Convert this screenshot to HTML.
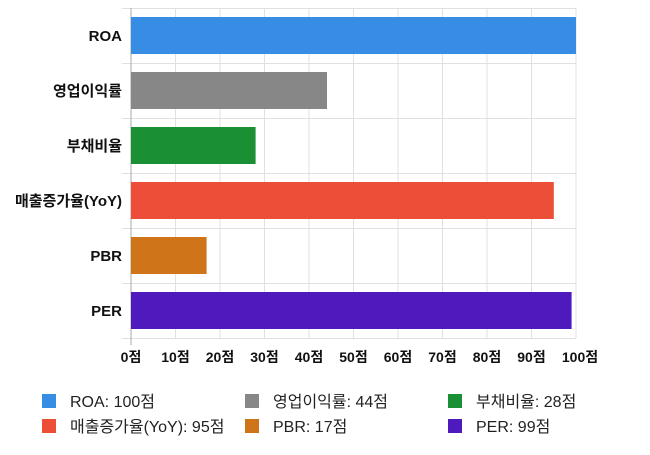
<!DOCTYPE html>
<html><head><meta charset="utf-8"><style>
body{margin:0;background:#fff;width:650px;height:450px;overflow:hidden;font-family:"Liberation Sans","Noto Sans CJK KR",sans-serif}
</style></head><body>
<svg width="650" height="450" xmlns="http://www.w3.org/2000/svg" font-family="Liberation Sans, Noto Sans CJK KR, sans-serif">
<g stroke="#e0e0e0" stroke-width="1">
<line x1="175.5" y1="8" x2="175.5" y2="338"/><line x1="220" y1="8" x2="220" y2="338"/><line x1="264.5" y1="8" x2="264.5" y2="338"/><line x1="309" y1="8" x2="309" y2="338"/><line x1="353.5" y1="8" x2="353.5" y2="338"/><line x1="398" y1="8" x2="398" y2="338"/><line x1="442.5" y1="8" x2="442.5" y2="338"/><line x1="487" y1="8" x2="487" y2="338"/><line x1="531.5" y1="8" x2="531.5" y2="338"/><line x1="576" y1="8" x2="576" y2="338"/>
<line x1="122" y1="8.5" x2="576" y2="8.5"/><line x1="122" y1="63.5" x2="576" y2="63.5"/><line x1="122" y1="118.5" x2="576" y2="118.5"/><line x1="122" y1="173.5" x2="576" y2="173.5"/><line x1="122" y1="228.5" x2="576" y2="228.5"/><line x1="122" y1="283.5" x2="576" y2="283.5"/><line x1="122" y1="338.5" x2="576" y2="338.5"/>
</g>
<line x1="131" y1="8" x2="131" y2="345" stroke="#aaa"/>
<rect x="131" y="17" width="445" height="37" fill="#378ce4"/>
<rect x="131" y="72" width="196" height="37" fill="#878787"/>
<rect x="131" y="127" width="124.6" height="37" fill="#1a8f34"/>
<rect x="131" y="182" width="422.8" height="37" fill="#ec4e37"/>
<rect x="131" y="237" width="75.6" height="37" fill="#cf7418"/>
<rect x="131" y="292" width="440.6" height="37" fill="#4f1abd"/>
<g font-size="15" font-weight="bold" fill="#111" text-anchor="end">
<text x="122" y="41">ROA</text><text x="122" y="96">영업이익률</text><text x="122" y="151">부채비율</text><text x="122" y="206">매출증가율(YoY)</text><text x="122" y="261">PBR</text><text x="122" y="316">PER</text>
</g>
<g font-size="14" font-weight="bold" fill="#111" text-anchor="middle">
<text x="131" y="362">0점</text><text x="175.5" y="362">10점</text><text x="220" y="362">20점</text><text x="264.5" y="362">30점</text><text x="309" y="362">40점</text><text x="353.5" y="362">50점</text><text x="398" y="362">60점</text><text x="442.5" y="362">70점</text><text x="487" y="362">80점</text><text x="531.5" y="362">90점</text><text x="580" y="362">100점</text>
</g>
<rect x="42" y="394" width="14" height="14" fill="#378ce4"/><rect x="245" y="394" width="14" height="14" fill="#878787"/><rect x="448" y="394" width="14" height="14" fill="#1a8f34"/>
<rect x="42" y="419" width="14" height="14" fill="#ec4e37"/><rect x="245" y="419" width="14" height="14" fill="#cf7418"/><rect x="448" y="419" width="14" height="14" fill="#4f1abd"/>
<g font-size="16" fill="#222">
<text x="70" y="407">ROA: 100점</text><text x="273" y="407">영업이익률: 44점</text><text x="476" y="407">부채비율: 28점</text>
<text x="70" y="432">매출증가율(YoY): 95점</text><text x="273" y="432">PBR: 17점</text><text x="476" y="432">PER: 99점</text>
</g>
</svg>
</body></html>
